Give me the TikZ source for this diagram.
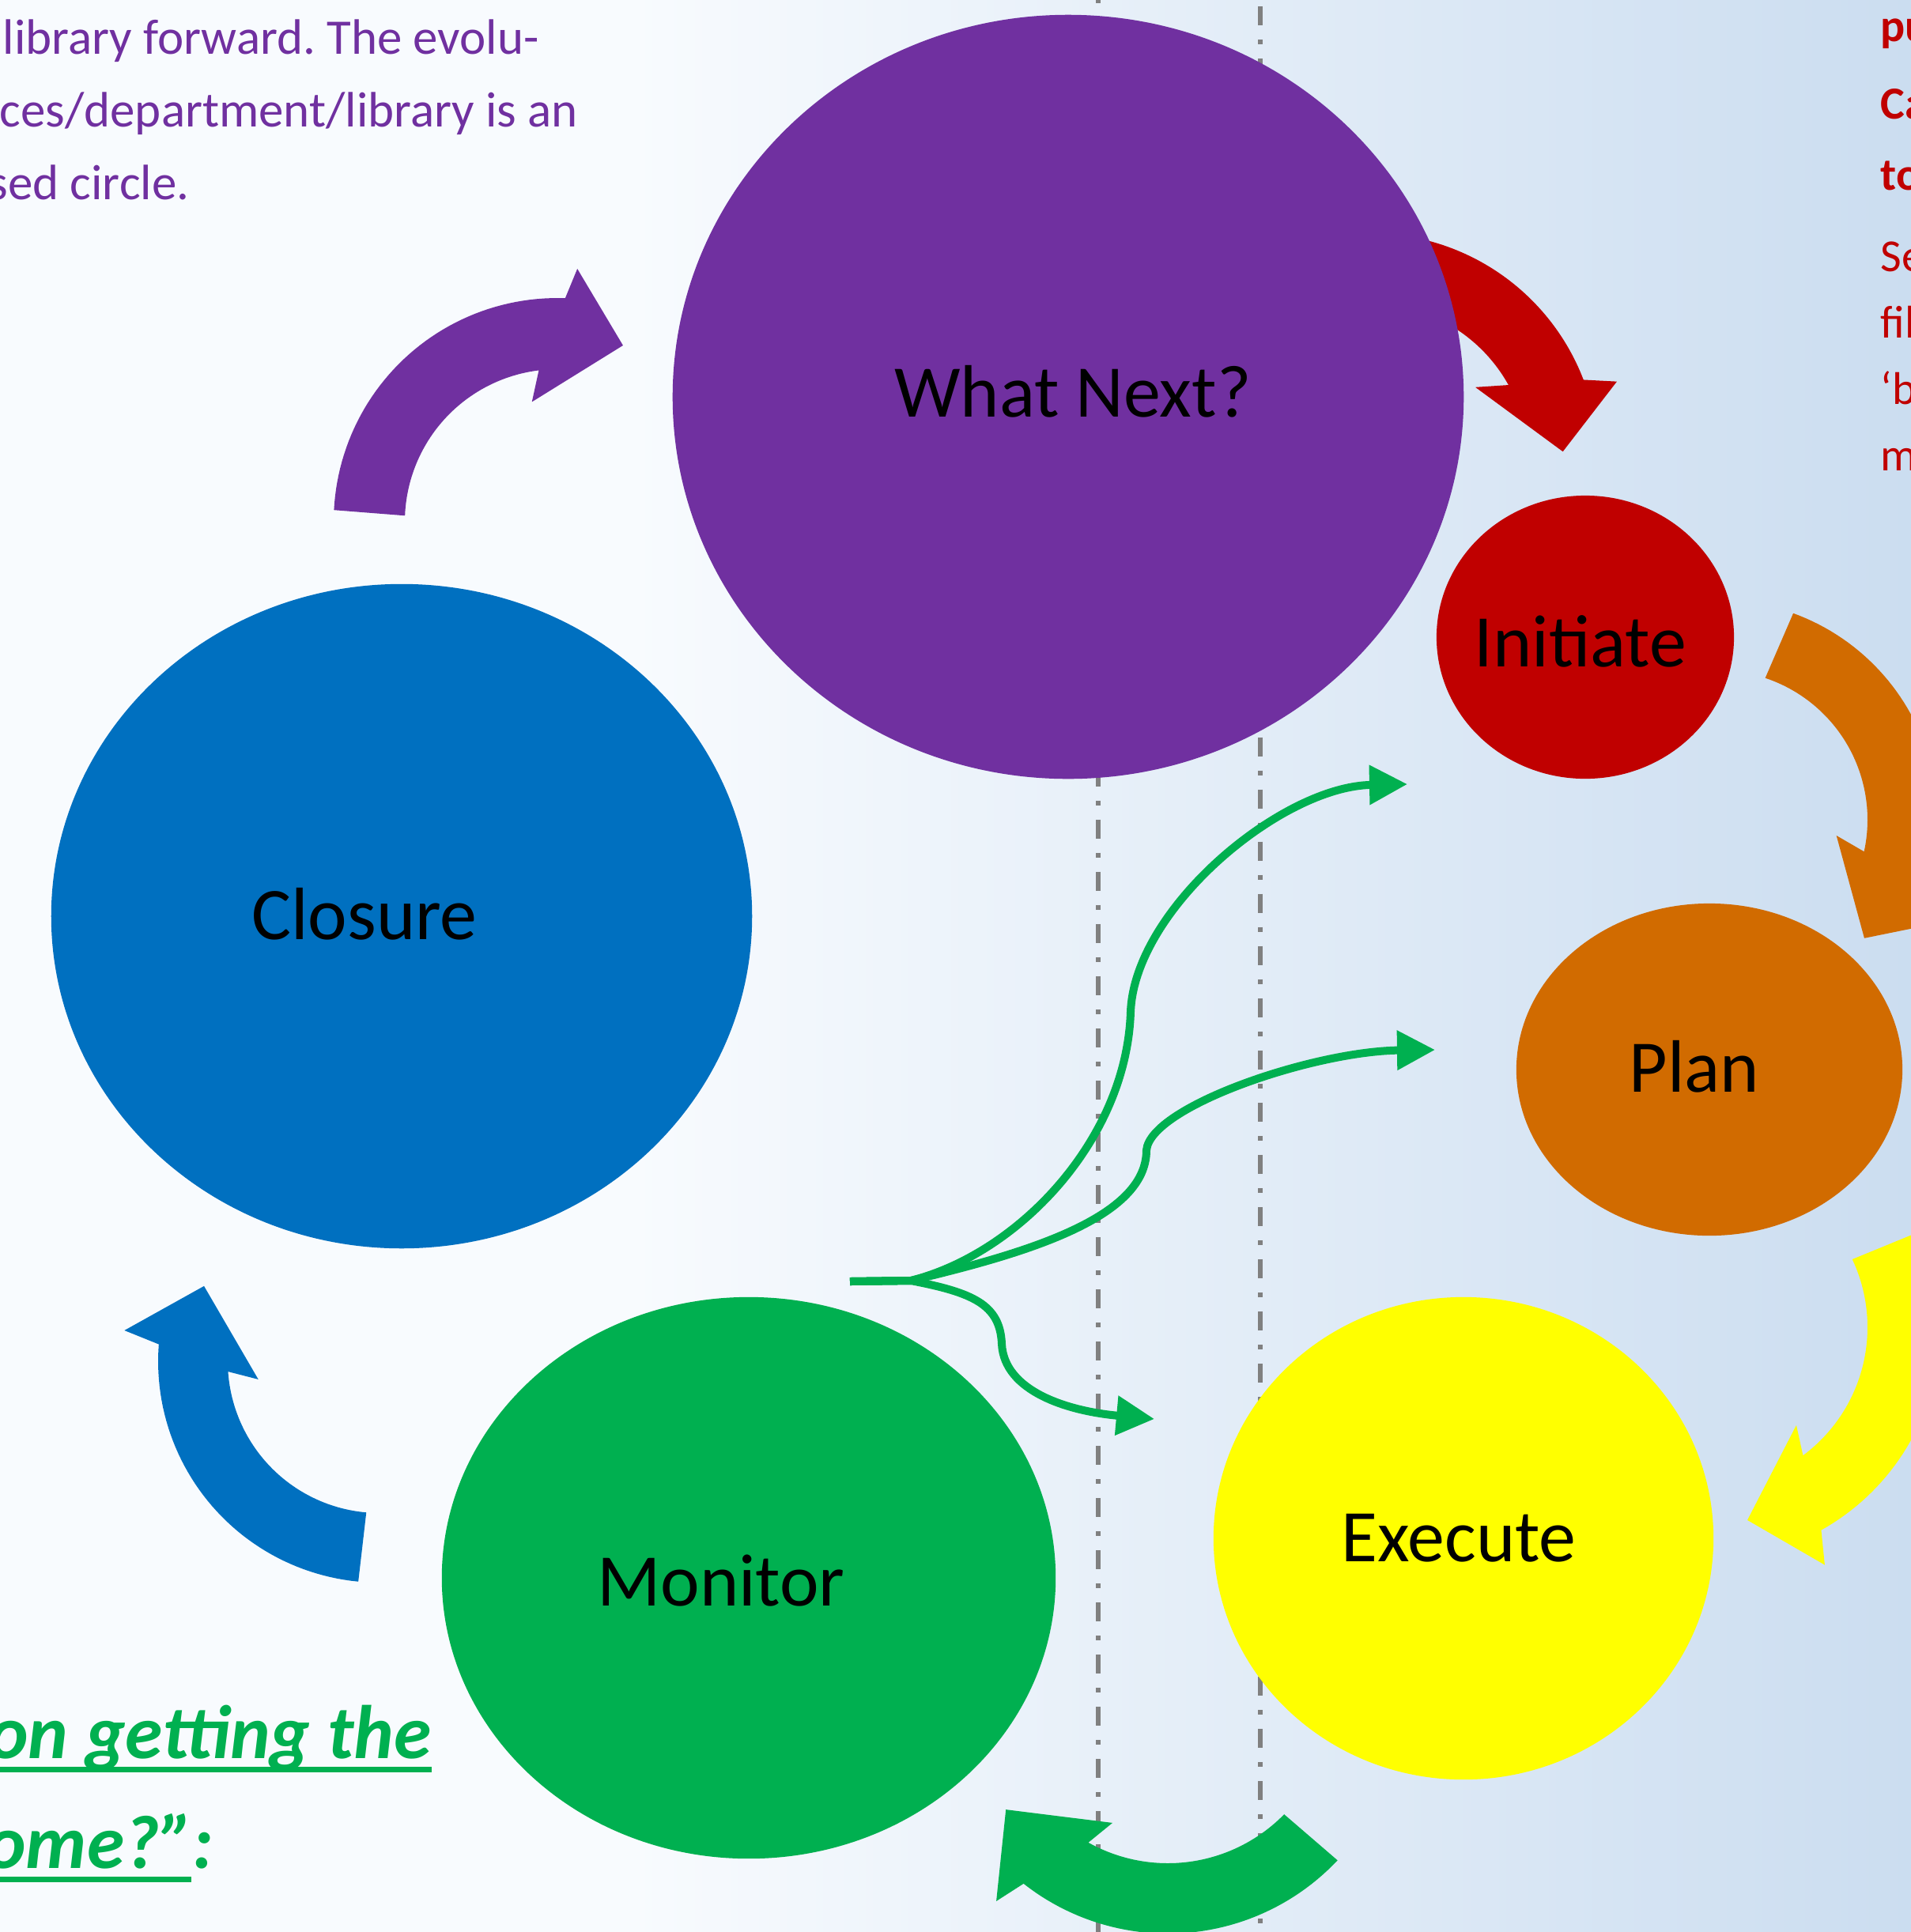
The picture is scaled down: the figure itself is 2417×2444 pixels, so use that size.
\documentclass[tikz,border=0pt]{standalone}
\usepackage{fontspec}
\setmainfont{Carlito}
\usetikzlibrary{shapes.geometric,arrows.meta}
\frenchspacing

\definecolor{bgL}{RGB}{248,251,254}
\definecolor{bgR}{RGB}{203,221,240}
\definecolor{cPurple}{HTML}{7030A0}
\definecolor{cRed}{HTML}{C00000}
\definecolor{cOrange}{RGB}{209,107,0}
\definecolor{cYellow}{HTML}{FFFF00}
\definecolor{cGreen}{HTML}{00B050}
\definecolor{cBlue}{HTML}{0070C0}
\definecolor{cGuide}{HTML}{808080}

% TikZ maps the path onto the middle 25bp--75bp of a shading
\pgfdeclarehorizontalshading{bgshade}{100bp}{color(0bp)=(bgL); color(41.5bp)=(bgL); color(75bp)=(bgR); color(100bp)=(bgR)}

\begin{document}
\begin{tikzpicture}[x=0.01cm, y=-0.01cm,
  blob/.style={ellipse, inner sep=0pt, outer sep=0pt, draw=none},
  stage/.style={anchor=base, inner sep=0pt, font=\fontsize{26.7}{32}\selectfont},
  guide/.style={cGuide, line width=0.065cm, dash pattern=on 0.24cm off 0.18cm on 0.06cm off 0.18cm},
  flow/.style={cGreen, line width=0.1cm, -{Triangle[length=0.48cm,width=0.48cm]}},
  band/.style={domain=#1, samples=50},
  note/.style={anchor=base west, inner sep=0pt, text=cPurple, font=\fontsize{17.9}{22}\selectfont},
  side/.style={anchor=base west, inner sep=0pt, text=cRed, font=\fontsize{16.5}{20}\selectfont},
  sidebold/.style={anchor=base west, inner sep=0pt, text=cRed, font=\fontsize{16.5}{20}\selectfont\bfseries},
  heading/.style={inner sep=0pt, text=cGreen, font=\fontsize{27.3}{33}\selectfont\bfseries\itshape}
]
\useasboundingbox (0,0) rectangle (2417,2444);
\clip (0,0) rectangle (2417,2444);

% background
\shade[shading=bgshade] (0,0) rectangle (2417,2444);

% vertical guides
\draw[guide] (1389,-20) -- (1389,2470);
\draw[guide] (1594,-58) -- (1594,2470);

% red arrow: what next -> initiate (its tail runs under the purple circle)
\fill[cRed, shift={(1733,584)}]
  plot[band=280:339] (\x:289) -- (342:328) -- (357:244) -- (324.7:163)
  -- plot[band=331:280] (\x:200) -- cycle;

% stage circles
\node[blob, fill=cPurple, minimum width=10.00cm, minimum height=9.66cm] (whatnext) at (1351,502) {};
\node[blob, fill=cRed,    minimum width=3.76cm,  minimum height=3.58cm] (initiate) at (2005,806) {};
\node[blob, fill=cOrange, minimum width=4.88cm,  minimum height=4.20cm] (plan) at (2162,1353) {};
\node[blob, fill=cYellow, minimum width=6.32cm,  minimum height=6.10cm] (execute) at (1851,1946) {};
\node[blob, fill=cGreen,  minimum width=7.76cm,  minimum height=7.10cm] (monitor) at (947,1996) {};
\node[blob, fill=cBlue,   minimum width=8.86cm,  minimum height=8.40cm] (closure) at (508,1159) {};

% purple arrow: closure -> what next
\fill[cPurple, shift={(705,660)}]
  plot[band=183:272] (\x:283) -- (274.5:321) -- (290.4:238) -- (258:155)
  -- plot[band=263:182.3] (\x:193) -- cycle;

% orange arrow: initiate -> plan
\fill[cOrange, shift={(2173,1037)}]
  plot[band=290:378] (\x:278) -- (381.2:340) -- (399:238) -- (367.6:151)
  -- plot[band=372.3:288.4] (\x:189) -- cycle;

% yellow arrow: plan -> execute
\fill[cYellow, shift={(2160,1679)}]
  plot[band=-25.2:53.4] (\x:202) -- (47.9:167) -- (78.4:249) -- (63.8:335)
  -- plot[band=60.8:-24.3] (\x:294) -- cycle;

% green arrow: execute -> monitor
\fill[cGreen, shift={(1477,2151)}]
  plot[band=44.4:119.2] (\x:206) -- (114.3:170) -- (146:247) -- (130.5:334)
  -- plot[band=128.2:43.3] (\x:295) -- cycle;

% blue arrow: monitor -> closure
\fill[cBlue, shift={(480,1722)}]
  plot[band=95:176.1] (\x:192) -- (171.5:155) -- (203.2:241.5) -- (186.9:325)
  -- plot[band=184.4:95.5] (\x:280) -- cycle;

% feedback links out of the monitor stage
\coordinate (fork) at (1075,1621);
\coordinate (split) at (1152,1620);
\coordinate (toInit) at (1780,992);
\coordinate (toPlan) at (1815,1328);
\coordinate (toExec) at (1460,1795);
\draw[flow] (fork) -- (split)
  .. controls (1290,1585) and (1425,1440) .. (1430,1280)
  .. controls (1435,1150) and (1620,995) .. (toInit);
\draw[flow] (fork) -- (split)
  .. controls (1300,1585) and (1450,1540) .. (1450,1455)
  .. controls (1455,1400) and (1660,1330) .. (toPlan);
\draw[flow] (fork) -- (split)
  .. controls (1230,1635) and (1265,1650) .. (1267,1700)
  .. controls (1270,1760) and (1350,1785) .. (toExec);

% stage labels
\node[stage] (tWhat) at (1357,527) {What Next?};
\node[stage] (tInit) at (1999,843) {Initiate};
\node[stage] (tPlan) at (2143,1381) {Plan};
\node[stage] (tExec) at (1845,1975) {Execute};
\node[stage] (tMon)  at (912,2031) {Monitor};
\node[stage] (tClos) at (461,1188) {Closure};

% purple paragraph, top left
\node[note] (n1) at (3,68) {library forward. The evolu-};
\node[note] (n2) at (-1,160) {ces/department/library is an};
\node[note] (n3) at (-15,252) {sed circle.};

% red column, right edge
\node[sidebold] (r1) at (2378,52) {pu};
\node[sidebold] (r2) at (2378,150) {Ca};
\node[sidebold] (r3) at (2378,240) {to};
\node[side] (r4) at (2378,343) {Se};
\node[side] (r5) at (2378,427) {fil};
\node[side] (r6) at (2378,511) {‘b};
\node[side] (r7) at (2378,595) {m};

% green heading, bottom left
\node[heading, anchor=base east] (g1) at (546,2224) {on getting the};
\node[heading, anchor=base east] (g2) at (246,2363) {ome?”};
\node[heading, anchor=base west] (g3) at ([xshift=-0.03cm]g2.base east) {:};
\fill[cGreen] (0,2235) rectangle (546,2242);
\fill[cGreen] (0,2374) rectangle (242,2381);
\end{tikzpicture}
\end{document}
